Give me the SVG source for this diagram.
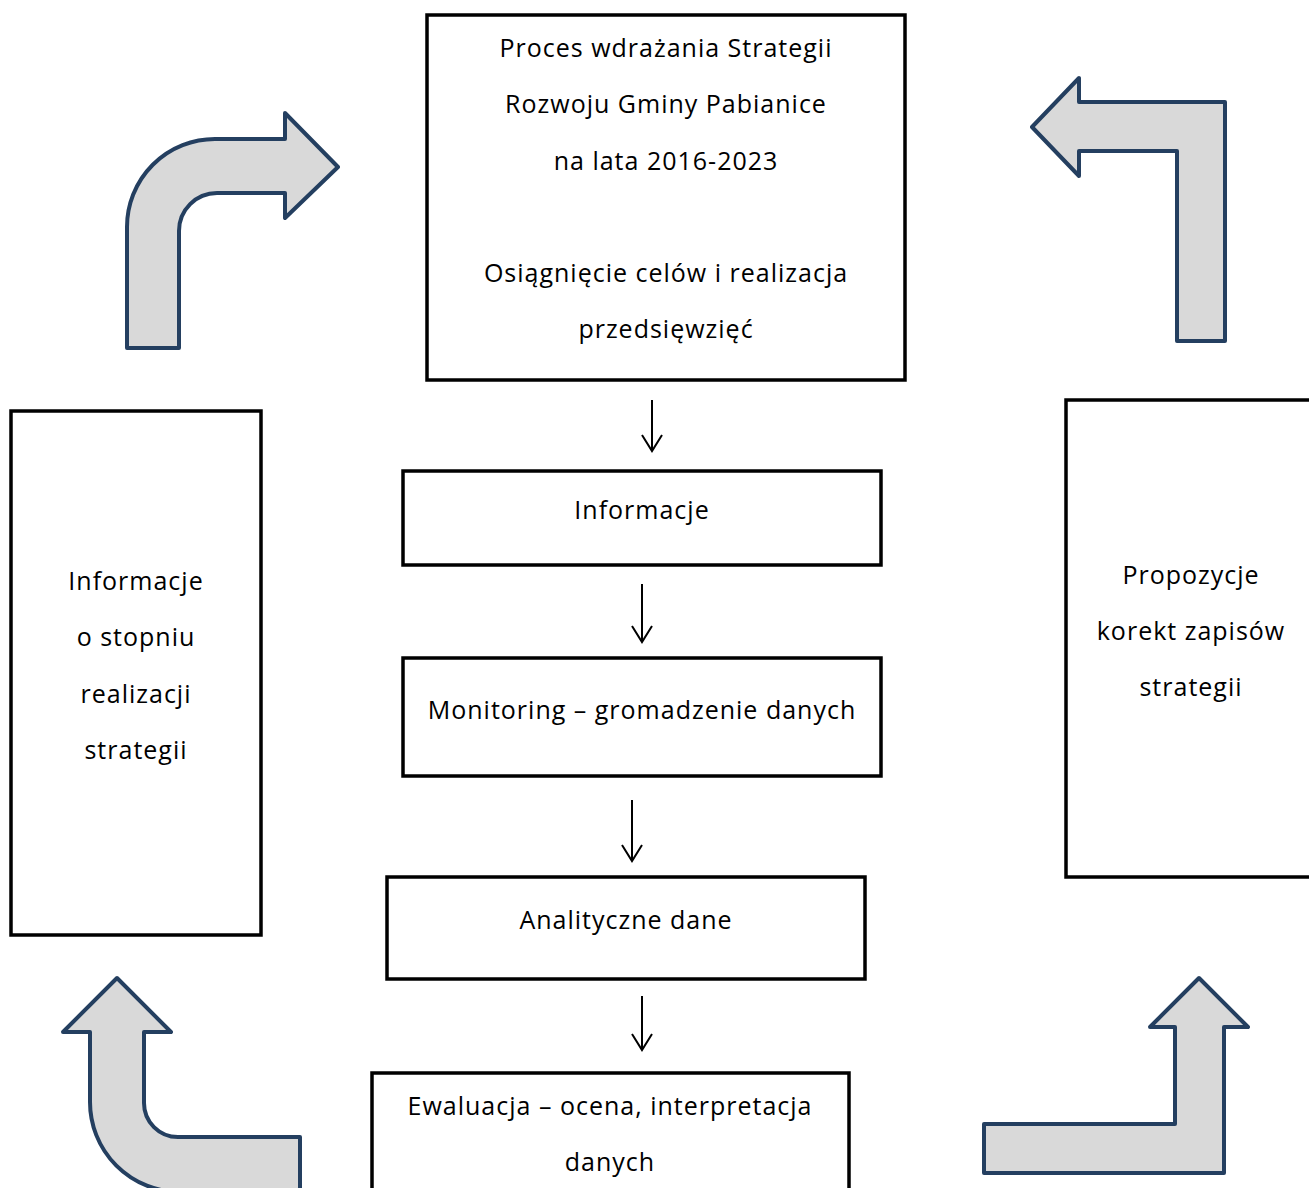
<svg xmlns="http://www.w3.org/2000/svg" width="1309" height="1188" viewBox="0 0 1309 1188">
<style>
.box{fill:#fff;stroke:#000;stroke-width:3.5}
.t{font-family:"Open Sans","DejaVu Sans",sans-serif;font-size:25px;letter-spacing:1px;fill:#000;text-anchor:middle}
.bent{fill:#d9d9d9;stroke:#243f60;stroke-width:4;stroke-linejoin:round}
.con{stroke:#000;stroke-width:2;fill:none}
</style>
<rect width="1309" height="1188" fill="#fff"/>
<g id="node-main">
<rect class="box" x="427" y="15" width="478" height="365"/>
<text class="t" x="666" y="57">Proces wdrażania Strategii</text>
<text class="t" x="666" y="113">Rozwoju Gminy Pabianice</text>
<text class="t" x="666" y="170">na lata 2016-2023</text>
<text class="t" x="666" y="282">Osiągnięcie celów i realizacja</text>
<text class="t" x="666" y="338">przedsięwzięć</text>
</g>
<g id="node-informacje">
<rect class="box" x="403" y="471" width="478" height="94"/>
<text class="t" x="642" y="519">Informacje</text>
</g>
<g id="node-monitoring">
<rect class="box" x="403" y="658" width="478" height="118"/>
<text class="t" x="642" y="719">Monitoring – gromadzenie danych</text>
</g>
<g id="node-analityczne">
<rect class="box" x="387" y="877" width="478" height="102"/>
<text class="t" x="626" y="929">Analityczne dane</text>
</g>
<g id="node-ewaluacja">
<rect class="box" x="372" y="1073" width="477" height="130"/>
<text class="t" x="610" y="1115">Ewaluacja – ocena, interpretacja</text>
<text class="t" x="610" y="1171">danych</text>
</g>
<g id="node-left">
<rect class="box" x="11" y="411" width="250" height="524"/>
<text class="t" x="136" y="590">Informacje</text>
<text class="t" x="136" y="646">o stopniu</text>
<text class="t" x="136" y="703">realizacji</text>
<text class="t" x="136" y="759">strategii</text>
</g>
<g id="node-right">
<rect class="box" x="1066" y="400" width="260" height="477"/>
<text class="t" x="1191" y="584">Propozycje</text>
<text class="t" x="1191" y="640">korekt zapisów</text>
<text class="t" x="1191" y="696">strategii</text>
</g>
<g id="connectors">
<path class="con" d="M652,400 V451 M642,435 L652,451 L662,435"/>
<path class="con" d="M642,584 V642 M632,626 L642,642 L652,626"/>
<path class="con" d="M632,800 V861 M622,845 L632,861 L642,845"/>
<path class="con" d="M642,996 V1050 M632,1034 L642,1050 L652,1034"/>
<path class="bent" d="M127,348 L127,227 A88,88 0 0 1 215,139 L285,139 L285,113 L338,167 L285,218 L285,193 L217,193 A38,38 0 0 0 179,231 L179,348 Z"/>
<path class="bent" d="M1032,127 L1079,78 L1079,102 L1225,102 L1225,341 L1177,341 L1177,151 L1079,151 L1079,176 Z"/>
<path class="bent" d="M117,978 L171,1032 L144,1032 L144,1103 A34,34 0 0 0 178,1137 L300,1137 L300,1192 L180,1192 A90,90 0 0 1 90,1102 L90,1032 L63,1032 Z"/>
<path class="bent" d="M1199,978 L1248,1027 L1224,1027 L1224,1173 L984,1173 L984,1124 L1175,1124 L1175,1027 L1150,1027 Z"/>
</g>
</svg>
